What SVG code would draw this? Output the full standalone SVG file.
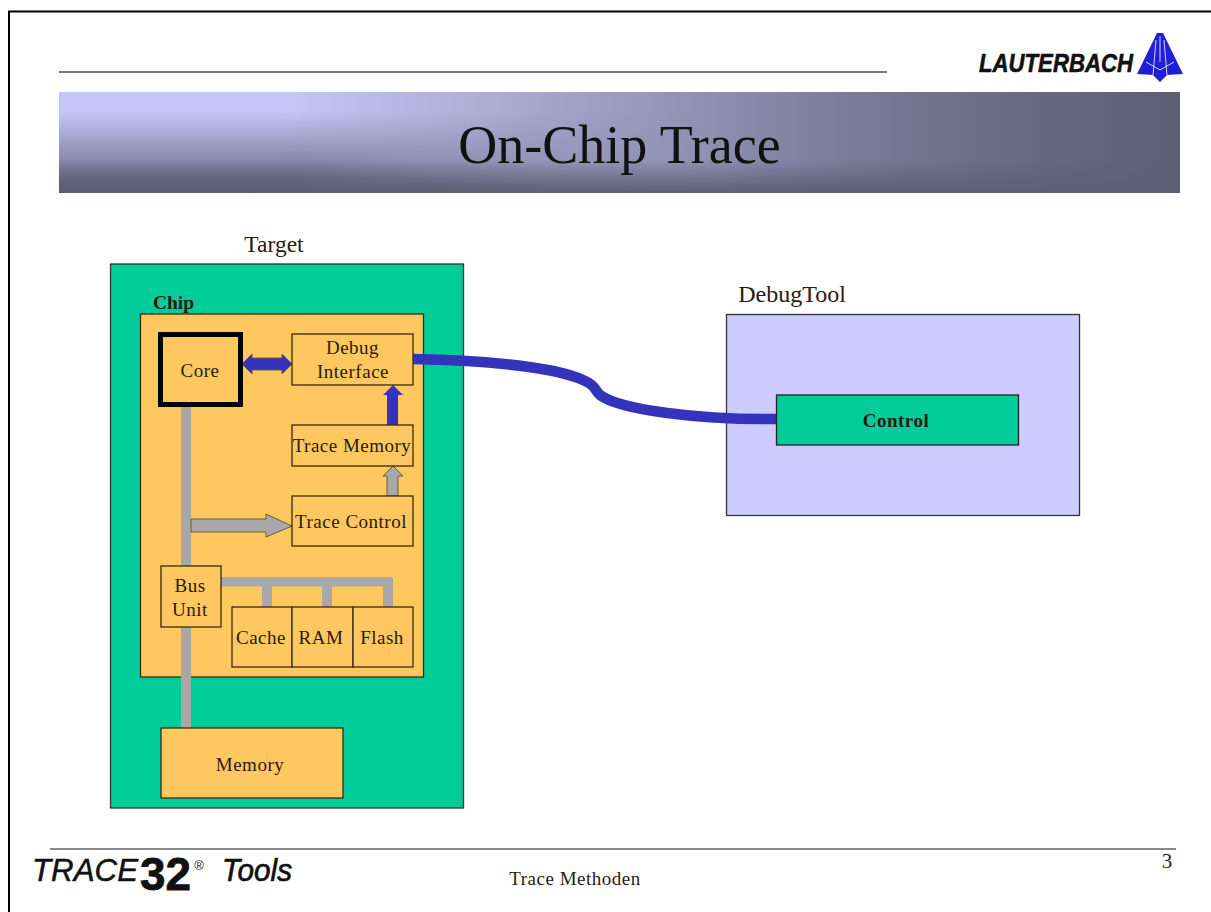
<svg xmlns="http://www.w3.org/2000/svg" width="1211" height="912" viewBox="0 0 1211 912">
<style>
.t{font-family:"Liberation Serif",serif;fill:#2a1a10;text-anchor:middle}
.l{font-size:19px;letter-spacing:.5px}
.s{font-family:"Liberation Sans",sans-serif;fill:#111}
.box{fill:#ffc75f;stroke:#3a2a10;stroke-width:1.3}
.bus{fill:#a8a8a8}
.edge{stroke:#6a5a40;stroke-width:1}
.blue{fill:#3333bb}
</style>
<defs>
<linearGradient id="hd" gradientUnits="userSpaceOnUse" x1="59" y1="0" x2="1180" y2="0">
<stop offset="0" stop-color="#c6c6f6"/><stop offset=".2" stop-color="#c6c6f6"/><stop offset=".5" stop-color="#9c9cc0"/><stop offset=".7" stop-color="#7b7b9b"/><stop offset=".85" stop-color="#6a6a85"/><stop offset="1" stop-color="#5e5d75"/>
</linearGradient>
<linearGradient id="shA" gradientUnits="userSpaceOnUse" x1="0" y1="112" x2="0" y2="193">
<stop offset="0" stop-color="#5e5d75" stop-opacity="0"/><stop offset="1" stop-color="#5e5d75" stop-opacity="1"/>
</linearGradient>
<linearGradient id="shB" gradientUnits="userSpaceOnUse" x1="0" y1="160" x2="0" y2="193">
<stop offset="0" stop-color="#5e5d75" stop-opacity="0"/><stop offset="1" stop-color="#5e5d75" stop-opacity="1"/>
</linearGradient>
<linearGradient id="fade" gradientUnits="userSpaceOnUse" x1="300" y1="0" x2="700" y2="0">
<stop offset="0" stop-color="#fff"/><stop offset="1" stop-color="#000"/>
</linearGradient>
<mask id="m" maskUnits="userSpaceOnUse" x="59" y="92" width="1121" height="101"><rect x="59" y="92" width="1121" height="101" fill="url(#fade)"/></mask>
</defs>
<rect width="1211" height="912" fill="#fff"/>
<rect x="9" y="11.500" width="1230" height="920" fill="none" stroke="#000" stroke-width="2"/>
<line x1="59" y1="72" x2="887" y2="72" stroke="#777" stroke-width="2"/>
<line x1="50" y1="849" x2="1176" y2="849" stroke="#888" stroke-width="2"/>
<g id="header"><rect x="59" y="92" width="1121" height="101" fill="url(#hd)"/><rect x="59" y="92" width="1121" height="101" fill="url(#shA)" mask="url(#m)"/><rect x="59" y="92" width="1121" height="101" fill="url(#shB)"/>
<text x="619.500" y="163" font-size="54" class="t" style="fill:#111">On-Chip Trace</text></g>
<g id="logo"><text x="979" y="72" class="s" font-size="26" font-weight="700" font-style="italic" stroke="#111" stroke-width=".6" textLength="154" lengthAdjust="spacingAndGlyphs">LAUTERBACH</text>
<polygon points="1157,33 1163,33 1183,74 1167,75 1160,82 1153,75 1137,74" fill="#1f1fd8"/>
<path d="M1156 40 1153 75M1160 36V62M1164 40 1167 75M1146 62 1160 70 1174 62" fill="none" stroke="#fff" stroke-width=".8"/></g>
<g id="target"><rect x="110.500" y="264" width="353" height="544" fill="#00cc99" stroke="#333" stroke-width="1.300"/><text x="274" y="252" font-size="23.500" class="t">Target</text></g>
<g id="chip"><rect x="140.500" y="314" width="283" height="363" class="box"/><text x="173.500" y="309" font-size="19.500" font-weight="700" class="t">Chip</text></g>
<g id="debugtool"><rect x="726.500" y="314.500" width="353" height="201" fill="#ccccff" stroke="#333" stroke-width="1.300"/><text x="792" y="302" font-size="24" class="t">DebugTool</text></g>
<g id="connectors">
<rect x="181" y="405" width="10" height="323" class="bus"/>
<path d="M191 519H266V514L292 526 266 537V532H191Z" class="bus edge"/>
<rect x="221" y="577" width="172" height="9.500" class="bus"/>
<rect x="262" y="586" width="10" height="21" class="bus"/><rect x="322" y="586" width="10" height="21" class="bus"/><rect x="383" y="586" width="10" height="21" class="bus"/>
<path d="M242 364 252 354V358H282V354L292 364 282 374V370H252V374Z" class="blue edge"/>
<path d="M387 425V395H383L393 385 403 395H398V425Z" class="blue"/>
<path d="M387 496V476H383L393 466 403 476H398V496Z" class="bus edge"/>
<path d="M413 359C470 360 550 365 583 380C597 386 594 390 600 395C620 410 700 420 777 419" fill="none" stroke="#3333bb" stroke-width="10.500"/>
</g>
<g id="core"><rect x="160.500" y="334.500" width="80" height="70" fill="#ffc75f" stroke="#000" stroke-width="5"/><text x="200" y="377" class="t l">Core</text></g>
<g id="debug"><rect x="292" y="334" width="121" height="51" class="box"/><text x="352.500" y="354" class="t l">Debug</text><text x="353" y="378" class="t l">Interface</text></g>
<g id="tracemem"><rect x="292" y="425" width="121" height="41" class="box"/><text x="352" y="452" class="t l">Trace Memory</text></g>
<g id="tracectl"><rect x="292" y="496" width="121" height="50" class="box"/><text x="351" y="528" class="t l">Trace Control</text></g>
<g id="bus"><rect x="161" y="566" width="60" height="61" class="box"/><text x="190" y="592" class="t l">Bus</text><text x="190" y="616" class="t l">Unit</text></g>
<g id="cache"><rect x="232" y="607" width="60" height="60" class="box"/><text x="261" y="644" class="t l">Cache</text></g>
<g id="ram"><rect x="292" y="607" width="61" height="60" class="box"/><text x="321" y="644" class="t l">RAM</text></g>
<g id="flash"><rect x="353" y="607" width="60" height="60" class="box"/><text x="382" y="644" class="t l">Flash</text></g>
<g id="memory"><rect x="161" y="728" width="182" height="70" class="box"/><text x="250" y="771" class="t l">Memory</text></g>
<g id="control"><rect x="776.500" y="395" width="242" height="50" fill="#00cc99" stroke="#222" stroke-width="1.300"/><text x="896" y="427" font-weight="700" class="t l">Control</text></g>
<g id="footer">
<text x="32" y="881" class="s" font-size="31" font-style="italic" stroke="#111" stroke-width=".5" textLength="106" lengthAdjust="spacingAndGlyphs">TRACE</text>
<text x="140" y="890" class="s" font-size="46" font-weight="700" stroke="#111" stroke-width=".8" textLength="51" lengthAdjust="spacingAndGlyphs">32</text>
<text x="199" y="870" class="s" font-size="13" text-anchor="middle">®</text>
<text x="222" y="881" class="s" font-size="32" font-style="italic" stroke="#111" stroke-width=".7" textLength="70" lengthAdjust="spacingAndGlyphs">Tools</text>
<text x="575" y="885" class="t l">Trace Methoden</text>
<text x="1167" y="868" font-size="21" class="t">3</text></g>
</svg>
